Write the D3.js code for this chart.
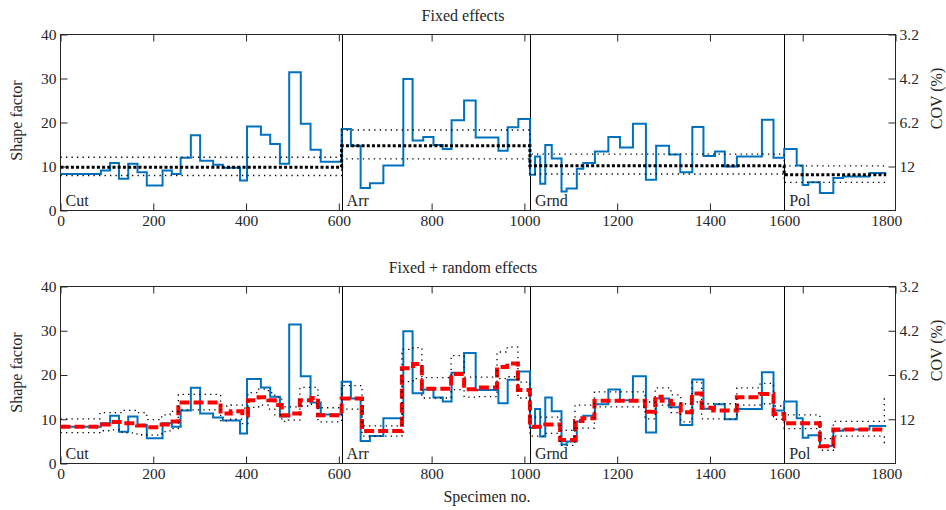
<!DOCTYPE html>
<html>
<head>
<meta charset="utf-8">
<script src="https://cdn.jsdelivr.net/npm/d3@7"></script>
<style>
  body { margin: 0; background: #fff; }
  svg text { font-family: "Liberation Serif", "DejaVu Serif", serif; fill: #262626; }
</style>
</head>
<body>
<div id="chart"></div>
<script>
// groups of specimens (machining steps)
const groupNames = ['Cut', 'Arr', 'Grnd', 'Pol'];
const groupStarts = [0, 606, 1012, 1560];
const specimenEnd = 1780;

// measured shape factor (blue stairs), same in both panels
const shapeStarts = [0, 87, 107, 126, 146, 166, 186, 220, 240, 259,
    281, 301, 329, 350, 387, 402, 432, 452, 473, 493,
    518, 539, 561, 606, 626, 647, 667, 696, 739, 759,
    782, 804, 824, 843, 870, 895, 944, 964, 987, 1012,
    1023, 1034, 1045, 1059, 1080, 1091, 1113, 1127, 1152, 1181,
    1206, 1234, 1262, 1284, 1312, 1336, 1362, 1386, 1411, 1432,
    1458, 1512, 1537, 1560, 1587, 1600, 1612, 1637, 1666, 1687,
    1744];
const shapeValues = [8.3, 9.1, 10.8, 7.2, 10.6, 8.7, 5.7, 9.1, 8.3, 12.0,
    17.1, 11.3, 10.4, 9.7, 6.8, 19.1, 17.2, 15.1, 10.6, 31.4,
    19.7, 13.8, 11.1, 18.5, 14.7, 5.1, 6.2, 10.2, 29.9, 15.9,
    16.7, 14.9, 14.0, 20.5, 25.0, 16.6, 13.6, 18.9, 20.8, 8.1,
    12.3, 6.1, 14.9, 11.8, 4.3, 5.0, 9.5, 10.8, 13.4, 16.7,
    14.3, 19.7, 7.0, 14.7, 12.7, 8.7, 19.0, 12.4, 13.4, 10.0,
    12.3, 20.6, 12.0, 14.0, 10.2, 5.8, 6.4, 3.95, 7.4, 7.7,
    8.5];

// fixed effects model: one level per group
const fixedMean = [9.85, 14.7, 10.15, 8.1];
const fixedUpper = [12.1, 18.3, 12.8, 10.15];
const fixedLower = [7.95, 11.75, 8.3, 6.4];

// fixed + random effects model
const randomStarts = [0, 85, 104, 133, 165, 186, 218, 236, 254, 345,
    367, 392, 404, 427, 448, 462, 477, 491, 516, 541,
    555, 606, 650, 736, 760, 779, 842, 870, 896, 941,
    963, 986, 1012, 1045, 1077, 1109, 1125, 1151, 1260, 1282,
    1296, 1316, 1337, 1361, 1382, 1407, 1458, 1508, 1537, 1560,
    1637, 1666, 1776];
const randomMean = [8.3, 8.8, 9.4, 9.1, 8.6, 8.2, 8.8, 9.5, 13.8, 11.3,
    11.8, 10.9, 14.3, 15.0, 14.3, 13.2, 10.9, 11.3, 14.3, 14.8,
    10.9, 14.7, 7.35, 21.5, 22.5, 16.9, 20.2, 16.8, 17.2, 21.8,
    22.6, 16.6, 8.3, 8.8, 5.3, 9.6, 10.2, 14.2, 11.7, 15.1,
    14.2, 13.4, 11.6, 15.8, 12.6, 12.0, 15.0, 15.7, 11.2, 9.1,
    3.9, 7.7, 7.7];
const randomUpper = [10.1, 11.5, 11.5, 12.0, 11.5, 9.9, 11.0, 11.8, 15.6, 13.0,
    13.2, 12.5, 16.0, 16.8, 16.0, 15.0, 12.8, 12.8, 17.2, 17.2,
    12.6, 17.6, 8.5, 25.8, 26.2, 19.4, 24.4, 19.5, 19.5, 25.2,
    26.3, 18.4, 10.5, 10.5, 7.5, 13.2, 13.2, 16.2, 13.9, 17.1,
    17.1, 15.5, 13.5, 18.4, 13.5, 13.5, 17.1, 18.1, 13.0, 11.0,
    5.6, 9.5, 14.7];
const randomLower = [7.0, 7.4, 7.6, 6.9, 6.5, 6.4, 7.2, 7.9, 12.1, 9.7,
    10.0, 9.0, 12.7, 13.2, 12.3, 11.0, 9.5, 9.8, 13.0, 13.4,
    9.4, 12.3, 6.2, 18.5, 19.2, 14.8, 16.7, 15.0, 15.1, 19.2,
    19.6, 14.8, 6.2, 6.8, 4.1, 8.0, 8.0, 12.8, 10.1, 13.2,
    13.2, 11.5, 9.4, 13.9, 10.1, 10.1, 13.2, 13.5, 10.0, 7.9,
    3.0, 6.2, 4.5];

// axes
const xTicks = [0, 200, 400, 600, 800, 1000, 1200, 1400, 1600, 1800];
const xLabelAt = [0, 200, 400, 600, 800, 1000, 1200, 1400, 1560, 1780];
const xLabels = ['0', '200', '400', '600', '800', '1000', '1200', '1400', '1600', '1800'];
const yTicks = [0, 10, 20, 30, 40];
const covTicks = [10, 20, 30, 40];
const covLabels = ['12', '6.2', '4.2', '3.2'];

const width = 946;
const height = 510;
const axisColor = '#262626';

const svg = d3.select('#chart').append('svg')
    .attr('width', width)
    .attr('height', height);

const x = d3.scaleLinear().domain([0, 1800]).range([60.5, 895.5]);

function steps(starts, values) {
    const pts = starts.map((s, i) => [s, values[i]]);
    pts.push([specimenEnd, values[values.length - 1]]);
    return pts;
}

function styleAxis(g) {
    g.select('.domain').remove();
    g.selectAll('.tick line').attr('stroke', axisColor);
    g.selectAll('.tick text')
        .attr('font-family', '"Liberation Serif", serif')
        .attr('font-size', 15.5)
        .attr('fill', axisColor);
}

function drawPanel(top, bottom, title) {
    const y = d3.scaleLinear().domain([0, 40]).range([bottom, top]);
    const g = svg.append('g');

    // ticks inside the box
    g.append('g')
        .attr('transform', `translate(${x.range()[0]},0)`)
        .call(d3.axisLeft(y).tickValues(yTicks).tickSizeInner(-7).tickSizeOuter(0).tickPadding(4))
        .call(styleAxis);

    g.append('g')
        .attr('transform', `translate(${x.range()[1]},0)`)
        .call(d3.axisRight(y).tickValues(covTicks).tickFormat((d, i) => covLabels[i])
            .tickSizeInner(-7).tickSizeOuter(0).tickPadding(4))
        .call(styleAxis);

    g.append('g')
        .attr('transform', `translate(0,${top})`)
        .call(d3.axisTop(x).tickValues(xTicks).tickFormat('').tickSizeInner(-7).tickSizeOuter(0))
        .call(styleAxis);

    g.append('g')
        .attr('transform', `translate(0,${bottom})`)
        .call(d3.axisBottom(x).tickValues(xTicks.filter(v => v < 1600)).tickFormat('')
            .tickSizeInner(-7).tickSizeOuter(0))
        .call(styleAxis);

    g.append('g')
        .attr('transform', `translate(0,${bottom})`)
        .call(d3.axisBottom(x).tickValues(xLabelAt).tickFormat((d, i) => xLabels[i])
            .tickSize(0).tickPadding(4))
        .call(styleAxis);

    // group dividers and names
    g.selectAll('line.divider')
        .data(groupStarts.slice(1))
        .enter()
        .append('line')
        .attr('class', 'divider')
        .attr('x1', d => Math.round(x(d)) + 0.5)
        .attr('x2', d => Math.round(x(d)) + 0.5)
        .attr('y1', top)
        .attr('y2', bottom)
        .attr('stroke', '#000')
        .attr('stroke-width', 1);

    g.selectAll('text.group')
        .data(groupNames)
        .enter()
        .append('text')
        .attr('class', 'group')
        .attr('x', (d, i) => x(groupStarts[i]) + 5)
        .attr('y', bottom - 5)
        .attr('font-size', 16)
        .text(d => d);

    // frame
    g.append('rect')
        .attr('x', x.range()[0])
        .attr('y', top)
        .attr('width', x.range()[1] - x.range()[0])
        .attr('height', bottom - top)
        .attr('fill', 'none')
        .attr('stroke', axisColor)
        .attr('stroke-width', 1);

    g.append('text')
        .attr('x', 463)
        .attr('y', top - 13.5)
        .attr('text-anchor', 'middle')
        .attr('font-size', 16)
        .text(title);

    g.append('text')
        .attr('transform', `translate(22,${top + 86}) rotate(-90)`)
        .attr('text-anchor', 'middle')
        .attr('font-size', 16)
        .text('Shape factor');

    g.append('text')
        .attr('transform', `translate(942,${top + 64}) rotate(-90)`)
        .attr('text-anchor', 'middle')
        .attr('font-size', 16)
        .text('COV (%)');

    const line = d3.line()
        .x(d => x(d[0]))
        .y(d => y(d[1]))
        .curve(d3.curveStepAfter);

    return { g, y, line };
}

function addPath(panel, points, color, widthPx, dash) {
    panel.g.append('path')
        .datum(points)
        .attr('d', panel.line)
        .attr('fill', 'none')
        .attr('stroke', color)
        .attr('stroke-width', widthPx)
        .attr('stroke-dasharray', dash || null)
        .attr('stroke-linejoin', 'miter');
}

const fixedPanel = drawPanel(34.5, 210.5, 'Fixed effects');
addPath(fixedPanel, steps(shapeStarts, shapeValues), '#0072BD', 2);
addPath(fixedPanel, steps(groupStarts, fixedUpper), '#000', 1.3, '1.3,4.2');
addPath(fixedPanel, steps(groupStarts, fixedLower), '#000', 1.3, '1.3,4.2');
addPath(fixedPanel, steps(groupStarts, fixedMean), '#000', 3, '3,2.2');

const randomPanel = drawPanel(286.5, 463.5, 'Fixed + random effects');
addPath(randomPanel, steps(shapeStarts, shapeValues), '#0072BD', 2);
addPath(randomPanel, steps(randomStarts, randomMean), '#ff0000', 4, '10,4');
addPath(randomPanel, steps(randomStarts, randomUpper), '#000', 1.3, '1.3,4.2');
addPath(randomPanel, steps(randomStarts, randomLower), '#000', 1.3, '1.3,4.2');

svg.append('text')
    .attr('x', 487)
    .attr('y', 502)
    .attr('text-anchor', 'middle')
    .attr('font-size', 16)
    .text('Specimen no.');
</script>
</body>
</html>
